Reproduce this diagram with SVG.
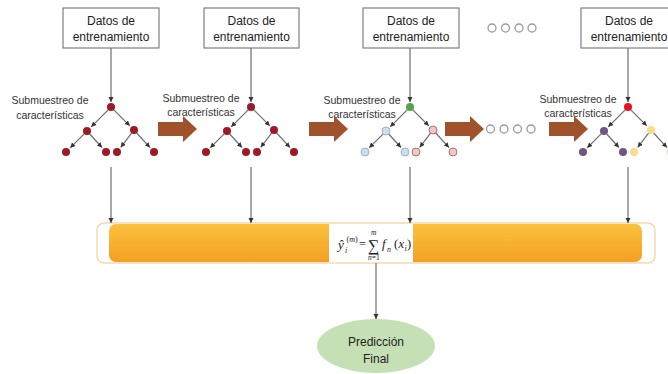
<svg xmlns="http://www.w3.org/2000/svg" xmlns:xlink="http://www.w3.org/1999/xlink" width="668" height="374" viewBox="0 0 668 374">
  <style>
    .box { fill: #ffffff; stroke: #7f7f7f; stroke-width: 1.2; }
    .boxtxt { font-family: "Liberation Sans", Arial, sans-serif; font-size: 12px; fill: #222; text-anchor: middle; }
    .lbl { font-family: "Liberation Sans", Arial, sans-serif; font-size: 10.5px; fill: #333; text-anchor: middle; }
    .edge { stroke: #6e6e6e; stroke-width: 1.2; fill: none; marker-end: url(#tip); }
    .conn { stroke: #6e6e6e; stroke-width: 1.2; fill: none; marker-end: url(#tip); }
    .dot { fill: #ffffff; stroke: #9a9a9a; stroke-width: 1.3; }
    .bigarrow { fill: #a0522d; }
    .math { font-family: "Liberation Serif", "Times New Roman", serif; fill: #222; }
    .red { fill: #9e1a26; }
    .blue { fill: #c9dff0; stroke: #8ea7bb; stroke-width: 0.8; }
    .pink { fill: #f2c6c6; stroke: #9c5a5a; stroke-width: 0.8; }
    .purple { fill: #6c5786; }
    .yellow { fill: #f9dc8c; }
  </style>
  <defs>
    <marker id="tip" markerUnits="userSpaceOnUse" markerWidth="6" markerHeight="6" refX="5" refY="2.5" orient="auto">
      <path d="M0,0 L5,2.5 L0,5 z" fill="#333"/>
    </marker>
    <linearGradient id="barFill" x1="0" y1="0" x2="0" y2="1">
      <stop offset="0" stop-color="#fbc23c"/>
      <stop offset="1" stop-color="#f3a024"/>
    </linearGradient>
    <!-- branch lines shared by every tree, relative to its root -->
    <g id="tree-edges">
      <line class="edge" x1="-2.8" y1="2.8" x2="-19.8" y2="19.8"/>
      <line class="edge" x1="2.8" y1="2.8" x2="18.8" y2="18.8"/>
      <line class="edge" x1="-26.8" y1="26.8" x2="-40.8" y2="40.8"/>
      <line class="edge" x1="-21.3" y1="27" x2="-9" y2="40.5"/>
      <line class="edge" x1="20.6" y1="26.2" x2="9.7" y2="40.3"/>
      <line class="edge" x1="25.7" y1="26" x2="39" y2="40.6"/>
    </g>
    <path id="bigarrow" class="bigarrow" d="M0,-7 L25,-7 L25,-13 L39,0 L25,13 L25,7 L0,7 z"/>
  </defs>

  <!-- training data boxes -->
  <g id="data1">
    <rect class="box" x="63" y="8" width="96" height="40"/>
    <text class="boxtxt" x="111" y="25">Datos de</text>
    <text class="boxtxt" x="111" y="41">entrenamiento</text>
  </g>
  <g id="data2">
    <rect class="box" x="204" y="8" width="95" height="40"/>
    <text class="boxtxt" x="251.5" y="25">Datos de</text>
    <text class="boxtxt" x="251.5" y="41">entrenamiento</text>
  </g>
  <g id="data3">
    <rect class="box" x="363" y="8" width="96" height="40"/>
    <text class="boxtxt" x="411" y="25">Datos de</text>
    <text class="boxtxt" x="411" y="41">entrenamiento</text>
  </g>
  <g id="data4">
    <rect class="box" x="581" y="8" width="96" height="40"/>
    <text class="boxtxt" x="629" y="25">Datos de</text>
    <text class="boxtxt" x="629" y="41">entrenamiento</text>
  </g>

  <!-- ellipsis between data boxes -->
  <g id="more-top">
    <circle class="dot" cx="492" cy="28" r="4"/>
    <circle class="dot" cx="505.5" cy="28" r="4"/>
    <circle class="dot" cx="519" cy="28" r="4"/>
    <circle class="dot" cx="532" cy="28" r="4"/>
  </g>

  <!-- feature subsampling labels -->
  <g id="labels">
    <text class="lbl" x="50" y="104">Submuestreo de</text>
    <text class="lbl" x="50" y="119">características</text>
    <text class="lbl" x="201" y="102">Submuestreo de</text>
    <text class="lbl" x="201" y="116">características</text>
    <text class="lbl" x="362" y="104">Submuestreo de</text>
    <text class="lbl" x="362" y="118">características</text>
    <text class="lbl" x="578" y="103">Submuestreo de</text>
    <text class="lbl" x="578" y="117">características</text>
  </g>

  <!-- trees -->
  <g id="tree1">
    <use xlink:href="#tree-edges" href="#tree-edges" x="111" y="107"/>
    <circle class="red" cx="111" cy="107" r="4"/>
    <circle class="red" cx="87" cy="131" r="4"/>
    <circle class="red" cx="134" cy="130" r="4"/>
    <circle class="red" cx="66" cy="152" r="4"/>
    <circle class="red" cx="106" cy="152" r="4"/>
    <circle class="red" cx="117" cy="152" r="4"/>
    <circle class="red" cx="154" cy="152" r="4"/>
  </g>
  <g id="tree2">
    <use xlink:href="#tree-edges" href="#tree-edges" x="251" y="107"/>
    <circle class="red" cx="251" cy="107" r="4"/>
    <circle class="red" cx="227" cy="131" r="4"/>
    <circle class="red" cx="274" cy="130" r="4"/>
    <circle class="red" cx="206" cy="152" r="4"/>
    <circle class="red" cx="246" cy="152" r="4"/>
    <circle class="red" cx="257" cy="152" r="4"/>
    <circle class="red" cx="294" cy="152" r="4"/>
  </g>
  <g id="tree3">
    <use xlink:href="#tree-edges" href="#tree-edges" x="410" y="107"/>
    <circle cx="410" cy="107" r="4" fill="#4fa648"/>
    <circle class="blue" cx="386" cy="131" r="4"/>
    <circle class="pink" cx="433" cy="130" r="4"/>
    <circle class="blue" cx="365" cy="152" r="4"/>
    <circle class="blue" cx="405" cy="152" r="4"/>
    <circle class="pink" cx="416" cy="152" r="4"/>
    <circle class="pink" cx="453" cy="152" r="4"/>
  </g>
  <g id="tree4">
    <use xlink:href="#tree-edges" href="#tree-edges" x="628" y="107"/>
    <circle cx="628" cy="107" r="4" fill="#e5121c"/>
    <circle class="purple" cx="604" cy="131" r="4"/>
    <circle class="yellow" cx="651" cy="130" r="4"/>
    <circle class="purple" cx="583" cy="152" r="4"/>
    <circle class="purple" cx="623" cy="152" r="4"/>
    <circle class="yellow" cx="634" cy="152" r="4"/>
    <circle class="yellow" cx="671" cy="152" r="4"/>
  </g>

  <!-- sequence arrows -->
  <g id="flow">
    <use xlink:href="#bigarrow" href="#bigarrow" x="158" y="129"/>
    <use xlink:href="#bigarrow" href="#bigarrow" x="309" y="129"/>
    <use xlink:href="#bigarrow" href="#bigarrow" x="445" y="129"/>
    <use xlink:href="#bigarrow" href="#bigarrow" x="549" y="129"/>
  </g>

  <g id="more-mid">
    <circle class="dot" cx="490.5" cy="129" r="4"/>
    <circle class="dot" cx="504" cy="129" r="4"/>
    <circle class="dot" cx="517.5" cy="129" r="4"/>
    <circle class="dot" cx="531" cy="129" r="4"/>
  </g>

  <!-- aggregation bar -->
  <g id="ensemble">
    <rect x="97" y="223" width="558" height="40" rx="7" fill="#ffffff" stroke="#f1dcae" stroke-width="1.5"/>
    <rect x="109" y="224" width="533" height="38" rx="7" fill="url(#barFill)"/>
    <rect x="329" y="224" width="84" height="38" fill="#ffffff"/>
    <text class="math" font-style="italic" font-size="13" x="338" y="249">ŷ</text>
    <text class="math" font-style="italic" font-size="8" x="345" y="253">i</text>
    <text class="math" font-size="8" x="346.5" y="242">(<tspan font-style="italic">m</tspan>)</text>
    <text class="math" font-size="12" x="359" y="248">=</text>
    <text class="math" font-size="16" x="368" y="251">∑</text>
    <text class="math" font-style="italic" font-size="7.5" x="371" y="235">m</text>
    <text class="math" font-size="7.5" x="368" y="260"><tspan font-style="italic">n</tspan>=1</text>
    <text class="math" font-style="italic" font-size="13" x="382" y="248">f</text>
    <text class="math" font-style="italic" font-size="8" x="387" y="252">n</text>
    <text class="math" font-size="12.5" x="394" y="248">(</text>
    <text class="math" font-style="italic" font-size="12.5" x="398.5" y="248">x</text>
    <text class="math" font-style="italic" font-size="8" x="404.5" y="251">i</text>
    <text class="math" font-size="12.5" x="407" y="248">)</text>
  </g>

  <!-- final prediction -->
  <g id="prediction">
    <ellipse cx="376" cy="346" rx="59" ry="27" fill="#c6e0b5"/>
    <text class="boxtxt" x="376" y="346" font-size="12.5">Predicción</text>
    <text class="boxtxt" x="376" y="363" font-size="12.5">Final</text>
  </g>

  <!-- connectors -->
  <g id="connectors">
    <line class="conn" x1="111" y1="48" x2="111" y2="102"/>
    <line class="conn" x1="251" y1="48" x2="251" y2="102"/>
    <line class="conn" x1="410" y1="48" x2="410" y2="102"/>
    <line class="conn" x1="628" y1="48" x2="628" y2="102"/>
    <line class="conn" x1="111" y1="167" x2="111" y2="223"/>
    <line class="conn" x1="251" y1="167" x2="251" y2="223"/>
    <line class="conn" x1="410" y1="167" x2="410" y2="223"/>
    <line class="conn" x1="628" y1="167" x2="628" y2="223"/>
    <line class="conn" x1="376" y1="263" x2="376" y2="319"/>
  </g>
</svg>
